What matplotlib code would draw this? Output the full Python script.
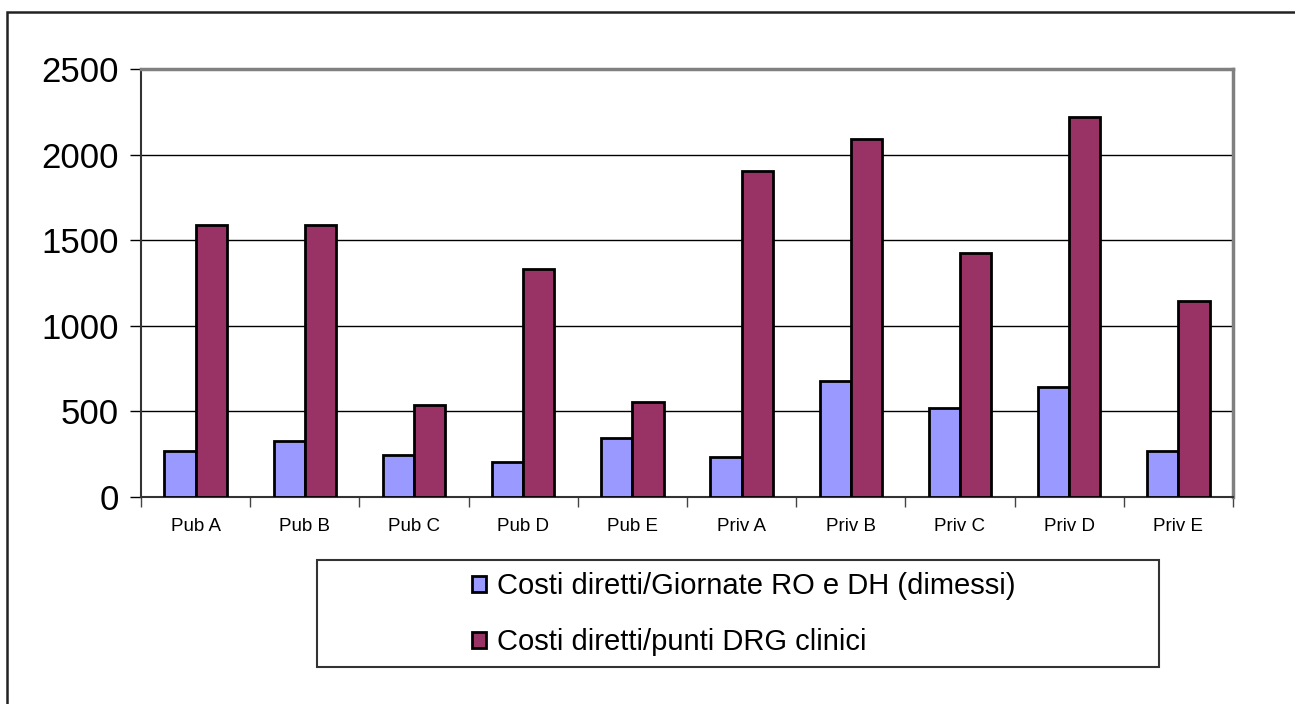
import numpy as np
import matplotlib.pyplot as plt
from matplotlib.patches import Rectangle

# Categories and values
categories = ["Pub A", "Pub B", "Pub C", "Pub D", "Pub E",
              "Priv A", "Priv B", "Priv C", "Priv D", "Priv E"]
costi_giornate = [268, 330, 248, 202, 346, 233, 677, 519, 640, 268]
costi_drg = [1586, 1586, 537, 1329, 553, 1902, 2091, 1426, 2218, 1142]
series_labels = ["Costi diretti/Giornate RO e DH (dimessi)",
                 "Costi diretti/punti DRG clinici"]
y_ticks = [0, 500, 1000, 1500, 2000, 2500]

W, H = 1295, 704
fig = plt.figure(figsize=(W / 100, H / 100), dpi=100)
fig.patch.set_facecolor("white")

# outer chart border (only left/top visible)
fig.patches.append(Rectangle((7 / W, -0.1), 1.2, (H - 12) / H + 0.1,
                             transform=fig.transFigure, fill=False,
                             edgecolor="#222222", lw=1.8))

ax = fig.add_axes([141 / W, (H - 497) / H, (1233 - 141) / W, (497 - 69) / H])

x = np.arange(len(categories))
w = 1 / 3.5
b1 = ax.bar(x - w / 2, costi_giornate, w, color="#9999FF",
            edgecolor="black", lw=2, label=series_labels[0], zorder=3)
b2 = ax.bar(x + w / 2, costi_drg, w, color="#993366",
            edgecolor="black", lw=2, label=series_labels[1], zorder=3)

ax.set_xlim(-0.5, len(categories) - 0.5)
ax.set_ylim(0, 2500)
ax.set_yticks(y_ticks)
ax.set_yticklabels([str(v) for v in y_ticks], fontsize=25,
                   family="Liberation Sans")
ax.tick_params(axis="y", length=8, width=1, pad=8, color="black")

ax.set_xticks(np.arange(len(categories) + 1) - 0.5)
ax.set_xticklabels([])
ax.tick_params(axis="x", which="major", length=7, width=1, color="#444444")
ax.set_xticks(x, minor=True)
ax.set_xticklabels(categories, minor=True, fontsize=13.5,
                   family="Liberation Sans")
ax.tick_params(axis="x", which="minor", length=0, pad=15)

ax.yaxis.grid(True, color="black", lw=1)
ax.set_axisbelow(True)

ax.spines["left"].set_color("#333333")
ax.spines["left"].set_linewidth(1.5)
ax.spines["bottom"].set_color("#333333")
ax.spines["bottom"].set_linewidth(1.5)
ax.spines["top"].set_color("#808080")
ax.spines["top"].set_linewidth(2.5)
ax.spines["right"].set_color("#808080")
ax.spines["right"].set_linewidth(2.5)

# legend box
fig.patches.append(Rectangle((317 / W, (H - 667) / H), (1159 - 317) / W,
                             (667 - 560) / H, transform=fig.transFigure,
                             fill=False, edgecolor="#333333", lw=1.5))
fig.legend(handles=[b1, b2], labels=series_labels, loc="upper left",
           bbox_to_anchor=(452 / W, (H - 552) / H), frameon=False,
           prop={"family": "Liberation Sans", "size": 21},
           handlelength=0.45, handleheight=0.45, handletextpad=0.4,
           labelspacing=0.95, borderpad=0.2)

fig.savefig("out.png", dpi=100)
